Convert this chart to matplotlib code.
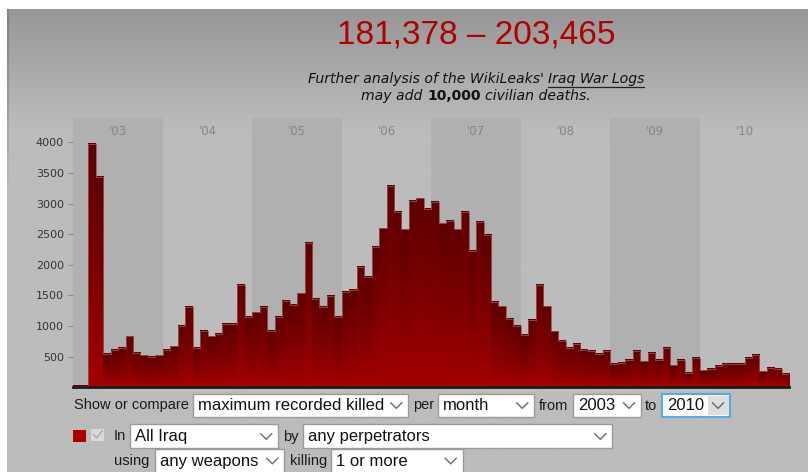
import numpy as np
import matplotlib.pyplot as plt
from matplotlib.colors import LinearSegmentedColormap
from matplotlib.patches import Rectangle

# monthly civilian deaths (maximum recorded)
years = ["'03", "'04", "'05", "'06", "'07", "'08", "'09", "'10"]
deaths_2003 = [25, 25, 3970, 3435, 548, 609, 647, 832, 565, 522, 490, 522]
deaths_2004 = [609, 669, 996, 1306, 647, 919, 832, 875, 1038, 1038, 1675, 1143]
deaths_2005 = [1224, 1306, 919, 1143, 1404, 1343, 1534, 2351, 1447, 1306, 1490, 1143]
deaths_2006 = [1551, 1594, 1959, 1796, 2290, 2595, 3286, 2857, 2579, 3046, 3085, 2911]
deaths_2007 = [3020, 2677, 2721, 2579, 2857, 2225, 2694, 2492, 1388, 1322, 1120, 996]
deaths_2008 = [849, 1099, 1675, 1322, 914, 751, 647, 707, 609, 588, 548, 588]
deaths_2009 = [385, 402, 446, 588, 424, 565, 446, 647, 359, 446, 239, 484]
deaths_2010 = [277, 304, 343, 386, 386, 386, 484, 527, 261, 320, 304, 222]
y_ticks = [500, 1000, 1500, 2000, 2500, 3000, 3500, 4000]

deaths = (deaths_2003 + deaths_2004 + deaths_2005 + deaths_2006 +
          deaths_2007 + deaths_2008 + deaths_2009 + deaths_2010)

title = "181,378 \u2013 203,465"

W, H = 808, 472
fig = plt.figure(figsize=(W / 100, H / 100), dpi=100, facecolor='white')

# background axes in pixel coordinates
bg = fig.add_axes([0, 0, 1, 1], zorder=0)
bg.set_xlim(0, W)
bg.set_ylim(H, 0)
bg.axis('off')

# grey page with a soft gradient at the top
top = np.array([0x97, 0x97, 0x97]) / 255
mid = np.array([0xbc, 0xbc, 0xbc]) / 255
rows = np.linspace(9, H, 300)
t = np.clip((rows - 9) / 120, 0, 1)[:, None]
col = (top * (1 - t) + mid * t)[:, None, :]
bg.imshow(col, extent=[7, W, H, 9], aspect='auto', interpolation='bilinear')
# faint left border that fades out downwards
edge = np.linspace(0, 1, 100)[:, None]
edge_rgba = np.zeros((100, 1, 4))
edge_rgba[..., :3] = 0x80 / 255
edge_rgba[..., 3] = (1 - edge[:, :1]) * 0.9
bg.imshow(edge_rgba, extent=[7, 8.5, 200, 9], aspect='auto', interpolation='bilinear')
bg.set_xlim(0, W)
bg.set_ylim(H, 0)

# title + subtitle
bg.text(476, 35, title, color='#b00000', fontsize=24, family='Liberation Sans',
        ha='center', va='center')

sub_fs = 10.1
renderer = fig.canvas.get_renderer()


def rich_line(y, pieces):
    items = []
    for s, kw in pieces:
        items.append(bg.text(0, y, s, ha='left', va='center', fontsize=sub_fs,
                             family='DejaVu Sans', color='#111111', **kw))
    a = bg.text(0, 0, "aa", fontsize=sub_fs, family='DejaVu Sans', style='italic')
    b = bg.text(0, 0, "a a", fontsize=sub_fs, family='DejaVu Sans', style='italic')
    sp = b.get_window_extent(renderer).width - a.get_window_extent(renderer).width
    a.remove()
    b.remove()
    widths = [it.get_window_extent(renderer).width for it in items]
    total = sum(widths) + sp * (len(items) - 1)
    x = 476 - total / 2
    starts = []
    for it, w in zip(items, widths):
        it.set_x(x)
        starts.append(x)
        x += w + sp
    return starts, widths


starts, widths = rich_line(79, [("Further analysis of the WikiLeaks'", dict(style='italic')),
                                ("Iraq War Logs", dict(style='italic'))])
bg.plot([starts[1], starts[1] + widths[1]], [86.5, 86.5], color='#222222', lw=0.9)
rich_line(96, [("may add", dict(style='italic')),
               ("10,000", dict(weight='bold')),
               ("civilian deaths.", dict(style='italic'))])

# main chart axes
x0, x1, y_base, y_top = 73.3, 789.3, 387.3, 117.7
ax = fig.add_axes([x0 / W, (H - y_base) / H, (x1 - x0) / W, (y_base - y_top) / H], zorder=1)
ax.patch.set_alpha(0)
ymax = (y_base - y_top) / 61.26 * 1000

n = len(deaths)
for i, yr in enumerate(years):
    if i % 2 == 0:
        ax.axvspan(12 * i, 12 * i + 12, color='#b0b0b0', lw=0, zorder=0)
    ax.text(12 * i + 6, ymax - 230, yr, ha='center', va='center', fontsize=8.5,
            color='#858585', family='DejaVu Sans')

cmap = LinearSegmentedColormap.from_list('bar', ['#5e0000', '#7c0000', '#a40000'])
grad = np.linspace(0, 1, 128).reshape(-1, 1)
bars = ax.bar(np.arange(n), deaths, width=1, align='edge', color='none', lw=0, zorder=3)
for b in bars:
    ax.imshow(grad, extent=[b.get_x(), b.get_x() + b.get_width(), 0, b.get_height()],
              aspect='auto', cmap=cmap, zorder=2, interpolation='nearest')
ax.stairs(deaths, np.arange(n + 1), color='#9a5050', lw=0.6, zorder=4)

ax.set_xlim(0, n)
ax.set_ylim(0, ymax)
ax.set_xticks([])
ax.set_yticks(y_ticks)
ax.tick_params(axis='y', length=3.6, width=0.8, color='#888888', pad=3.2,
               labelsize=8.0, labelcolor='#333333')
for s in ['left', 'top', 'right']:
    ax.spines[s].set_visible(False)
ax.spines['bottom'].set_linewidth(2)
ax.spines['bottom'].set_color('#1c1c1c')
ax.spines['bottom'].set_zorder(5)

# form controls below the chart
lab_kw = dict(fontsize=10.5, family='Liberation Sans', color='#1a1a1a', va='center', ha='left')


def dropdown(xa, xb, ya, yb, label, focus=False):
    bg.add_patch(Rectangle((xa, ya), xb - xa, yb - ya, facecolor='white',
                           edgecolor='#5aa9dd' if focus else '#9a9a9a',
                           lw=1.5 if focus else 1, zorder=2))
    if focus:
        bg.add_patch(Rectangle((xb - 22, ya + 1.5), 20.5, yb - ya - 3,
                               facecolor='#dedede', lw=0, zorder=3))
    cy = (ya + yb) / 2 if yb <= H else ya + 11.5
    cx = xb - 12
    bg.plot([cx - 5.5, cx, cx + 5.5], [cy - 2.5, cy + 3, cy - 2.5], color='#6a6a6a',
            lw=1, zorder=4)
    bg.text(xa + 5, cy + 0.5, label, fontsize=12, family='Liberation Sans',
            color='#111111', va='center', ha='left', zorder=4)


r1 = 405.5
bg.text(74, r1, "Show or compare", **lab_kw)
dropdown(193.3, 408.3, 394, 416.7, "maximum recorded killed")
bg.text(413.5, r1, "per", **lab_kw)
dropdown(438.3, 534.3, 394, 416.7, "month")
bg.text(539, r1, "from", **lab_kw)
dropdown(572.7, 641, 394, 416.7, "2003")
bg.text(645, r1, "to", **lab_kw)
dropdown(661.7, 730, 394, 416.7, "2010", focus=True)

r2 = 436.5
bg.add_patch(Rectangle((73.3, 430), 12.7, 11.7, facecolor='#aa0000', lw=0))
bg.add_patch(Rectangle((91, 428.5), 13.3, 12, facecolor='#dadada', lw=0))
bg.plot([93.5, 96.8, 102], [434.5, 437.8, 431], color='#a8a8a8', lw=1)
bg.text(114, r2, "In", **lab_kw)
dropdown(130, 278.3, 424.3, 448.3, "All Iraq")
bg.text(283, r2, "by", **lab_kw)
dropdown(303.3, 612.3, 424.3, 448.3, "any perpetrators")

r3 = 461
bg.text(114, r3, "using", **lab_kw)
dropdown(155, 284.3, 449.3, 480, "any weapons")
bg.text(290, r3, "killing", **lab_kw)
dropdown(330.7, 462.7, 449.3, 480, "1 or more")

bg.set_xlim(0, W)
bg.set_ylim(H, 0)

fig.savefig('out.png', dpi=100, facecolor='white')
